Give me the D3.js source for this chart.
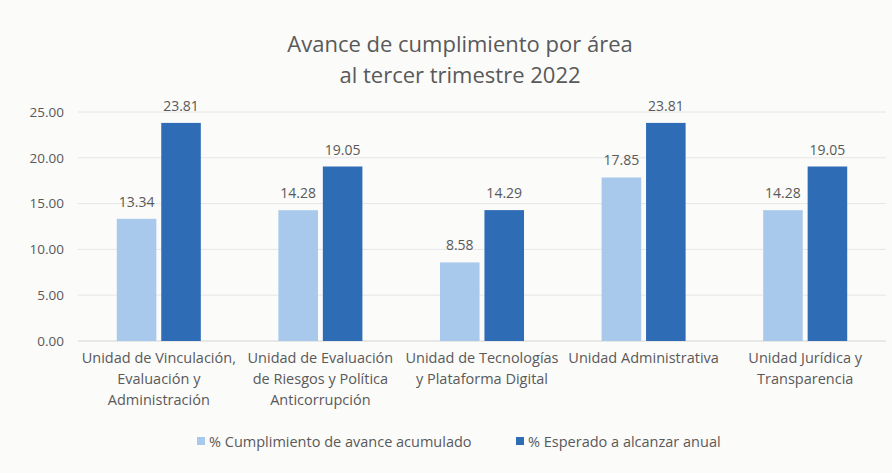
<!DOCTYPE html>
<html>
<head>
<meta charset="utf-8">
<script src="https://cdn.jsdelivr.net/npm/d3@7"></script>
<style>
	body { margin: 0; background: #fbfbfa; }
	text { font-family: "Open Sans", sans-serif; fill: #595959; }
</style>
</head>
<body>
<div id="chart"></div>
<script>
const categories = [
	['Unidad de Vinculación,', 'Evaluación y', 'Administración'],
	['Unidad de Evaluación', 'de Riesgos y Política', 'Anticorrupción'],
	['Unidad de Tecnologías', 'y Plataforma Digital'],
	['Unidad Administrativa'],
	['Unidad Jurídica y', 'Transparencia']
];
const seriesNames = ['% Cumplimiento de avance acumulado', '% Esperado a alcanzar anual'];
const cumplimiento = [13.34, 14.28, 8.58, 17.85, 14.28];
const esperado = [23.81, 19.05, 14.29, 23.81, 19.05];
const yTicks = [0, 5, 10, 15, 20, 25];
const colors = ['#a9c9ec', '#2e6cb6'];

const drawChart = () => {
	const width = 892,
		height = 473,
		margin = {top: 112, right: 6, bottom: 132, left: 78},
		innerWidth = width - margin.left - margin.right,
		innerHeight = height - margin.top - margin.bottom,
		svg = d3.select('#chart').append('svg').attr('width', width).attr('height', height),
		g = svg.append('g').attr('transform', `translate(${margin.left}, ${margin.top})`);

	const data = categories.map((c, i) => ({key: i, label: c, values: [cumplimiento[i], esperado[i]]}));

	//X scale - area
	const x0 = d3.scaleBand()
		.domain(d3.range(categories.length))
		.range([0, innerWidth]);
	//X scale - series
	const x1 = d3.scaleBand()
		.domain([0, 1])
		.range([x0.bandwidth() * 0.24, x0.bandwidth() * 0.76])
		.paddingInner(0.11);
	const y = d3.scaleLinear()
		.domain([0, 25])
		.range([innerHeight, 0]);

	//gridlines
	g.append('g')
		.selectAll('line')
		.data(yTicks)
		.enter().append('line')
		.attr('x1', 0)
		.attr('x2', innerWidth)
		.attr('y1', d => y(d))
		.attr('y2', d => y(d))
		.attr('stroke', d => d === 0 ? '#d4d4d4' : '#e6e6e6')
		.attr('stroke-width', 1);

	//y axis labels
	const yAxis = g.append('g')
		.call(d3.axisLeft(y).tickValues(yTicks).tickFormat(d3.format('.2f')).tickSize(0).tickPadding(14));
	yAxis.select('.domain').remove();
	yAxis.selectAll('text').attr('font-size', 13.5).style('fill', '#595959')
		.style('font-family', '"Open Sans", sans-serif');

	//grouped bars
	const groups = g.append('g')
		.selectAll('g')
		.data(data)
		.enter().append('g')
		.attr('transform', d => `translate(${x0(d.key)},0)`);

	groups.selectAll('rect')
		.data(d => d.values.map((v, i) => ({s: i, value: v})))
		.enter().append('rect')
		.attr('x', d => x1(d.s))
		.attr('y', d => y(d.value))
		.attr('width', x1.bandwidth())
		.attr('height', d => innerHeight - y(d.value))
		.attr('fill', d => colors[d.s]);

	groups.selectAll('.val')
		.data(d => d.values.map((v, i) => ({s: i, value: v})))
		.enter().append('text')
		.attr('class', 'val')
		.attr('x', d => x1(d.s) + x1.bandwidth() / 2)
		.attr('y', d => y(d.value) - 12)
		.attr('text-anchor', 'middle')
		.attr('font-size', 14)
		.text(d => d3.format('.2f')(d.value));

	//category labels
	groups.append('text')
		.attr('text-anchor', 'middle')
		.attr('font-size', 14.5)
		.attr('y', innerHeight + 22)
		.selectAll('tspan')
		.data(d => d.label)
		.enter().append('tspan')
		.attr('x', x0.bandwidth() / 2)
		.attr('dy', (d, i) => i === 0 ? 0 : 21)
		.text(d => d);

	//title
	const title = svg.append('text')
		.attr('text-anchor', 'middle')
		.attr('font-size', 22);
	title.append('tspan').attr('x', 460).attr('y', 52).text('Avance de cumplimiento por área');
	title.append('tspan').attr('x', 460).attr('y', 83).text('al tercer trimestre 2022');

	//legend
	const legendX = [197, 516];
	const legend = svg.append('g')
		.selectAll('g')
		.data(seriesNames)
		.enter().append('g')
		.attr('transform', (d, i) => `translate(${legendX[i]}, 447)`);
	legend.append('rect')
		.attr('x', 0)
		.attr('y', -10)
		.attr('width', 8)
		.attr('height', 8)
		.attr('fill', (d, i) => colors[i]);
	legend.append('text')
		.attr('x', 12)
		.attr('y', 0)
		.attr('font-size', 14.5)
		.text(d => d);
};
drawChart();
</script>
</body>
</html>
